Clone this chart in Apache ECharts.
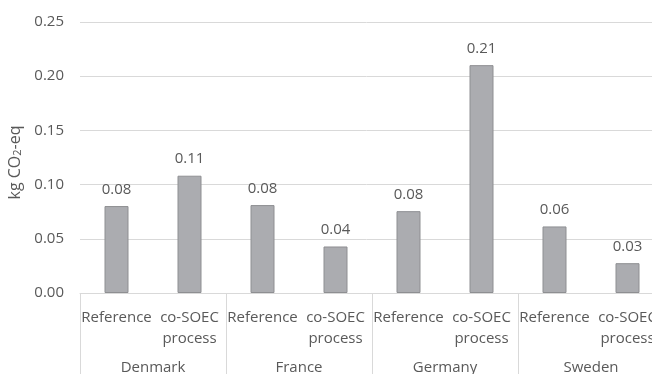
<!DOCTYPE html>
<html>
<head>
<meta charset="utf-8">
<script src="https://cdn.jsdelivr.net/npm/echarts@6/dist/echarts.min.js"></script>
<style>
  html, body { margin: 0; padding: 0; background: #fff; }
  #chart { width: 652px; height: 374px; }
</style>
</head>
<body>
<div id="chart"></div>
<script>
// Emissions per scenario, grouped by country
const countries = ['Denmark', 'France', 'Germany', 'Sweden'];
const scenarios = ['Reference', 'co-SOEC\nprocess'];
const values = [0.0802, 0.1082, 0.0811, 0.0429, 0.0755, 0.2102, 0.0614, 0.0275];
const yTicks = { min: 0, max: 0.25, step: 0.05 };

const categories = [];
countries.forEach(function (c) {
  scenarios.forEach(function (s) { categories.push(s); });
});

const textColor = '#595959';
const lineColor = '#d9d9d9';
const font = 'Open Sans';
const fs = 15;

const chart = echarts.init(document.getElementById('chart'), null, { renderer: 'canvas' });
chart.setOption({
  animation: false,
  grid: { left: 80, top: 22, right: -12, bottom: 81, containLabel: false, outerBoundsMode: 'none' },
  xAxis: [
    {
      type: 'category',
      data: categories,
      position: 'bottom',
      axisLine: { show: false },
      axisTick: { show: false },
      axisLabel: {
        interval: 0,
        margin: 14,
        color: textColor,
        fontFamily: font,
        fontSize: fs,
        lineHeight: 21
      }
    },
    {
      type: 'category',
      data: countries,
      position: 'bottom',
      axisLine: { show: true, lineStyle: { color: lineColor, width: 1 } },
      axisTick: { show: true, interval: 0, length: 90, lineStyle: { color: lineColor } },
      axisLabel: {
        interval: 0,
        margin: 67,
        color: textColor,
        fontFamily: font,
        fontSize: fs
      }
    }
  ],
  yAxis: {
    type: 'value',
    min: yTicks.min,
    max: yTicks.max,
    interval: yTicks.step,
    name: '{n|kg CO}{s|2}{n|-eq}',
    nameLocation: 'middle',
    nameGap: 56,
    nameRotate: 90,
    nameTextStyle: {
      padding: [0, 10, 0, 0],
      rich: {
        n: { color: textColor, fontFamily: font, fontSize: 16, lineHeight: 20, verticalAlign: 'bottom' },
        s: { color: textColor, fontFamily: font, fontSize: 11, lineHeight: 13, padding: [8, 0, 0, 0], verticalAlign: 'bottom' }
      }
    },
    axisLine: { show: false },
    axisTick: { show: false },
    splitLine: { lineStyle: { color: lineColor, width: 1 } },
    axisLabel: {
      margin: 16,
      color: textColor,
      fontFamily: font,
      fontSize: fs,
      formatter: function (v) { return v.toFixed(2); }
    }
  },
  series: [
    {
      type: 'bar',
      xAxisIndex: 0,
      data: values,
      barWidth: 24,
      itemStyle: { color: '#ABACB0', borderColor: '#8E8F92', borderWidth: 1 },
      label: {
        show: true,
        position: 'top',
        distance: 9,
        color: textColor,
        fontFamily: font,
        fontSize: fs,
        formatter: function (p) { return p.value.toFixed(2); }
      }
    }
  ]
});
</script>
</body>
</html>
